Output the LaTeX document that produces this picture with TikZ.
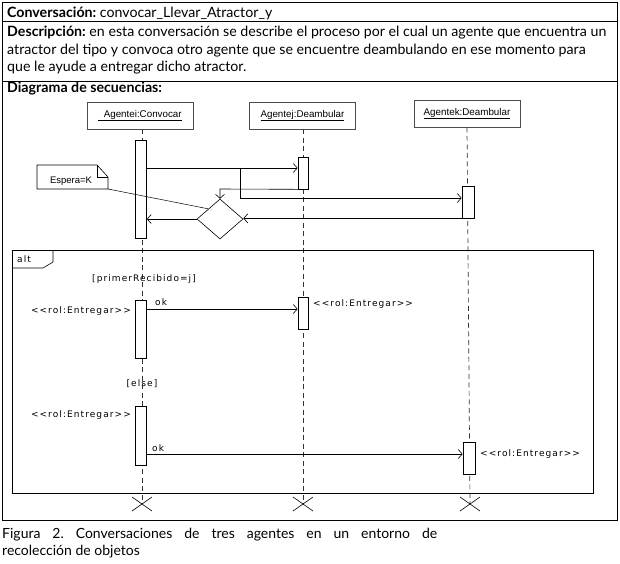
\documentclass[tikz,border=0pt]{standalone}
\usepackage{fontspec}
\setmainfont{Lato}
\newfontfamily\uml{Liberation Sans}
\newfontfamily\pix[LetterSpace=12]{DejaVu Sans}
\usetikzlibrary{arrows.meta,shapes.geometric,calc}
\frenchspacing
\begin{document}
\begin{tikzpicture}[x=1pt,y=-1pt,
  head/.style={draw=black!70,line width=0.8pt,minimum width=106pt,minimum height=27pt,inner sep=0pt,font=\uml\fontsize{9.8}{11}\selectfont},
  act/.style={draw,fill=white,line width=0.7pt,minimum width=11pt,inner sep=0pt},
  lifeline/.style={draw=black!80,line width=0.7pt,dash pattern=on 5pt off 3.5pt},
  msg/.style={draw,line width=0.6pt,-{Straight Barb[length=4pt,width=9pt]}},
  plain/.style={draw,line width=0.6pt},
  pixtxt/.style={inner sep=0pt,font=\pix\fontsize{9}{10}\selectfont},
  hdr/.style={inner sep=0pt,font=\fontsize{14.2}{17.3}\selectfont}]
\useasboundingbox (0,0) rectangle (620,563);
% table
\draw[line width=0.8pt] (2,2) rectangle (617,520);
\draw[line width=0.8pt] (2,21) -- (617,21);
\draw[line width=0.8pt] (2,81) -- (617,81);
\node[hdr,anchor=base west] (conv) at (7,17) {\textbf{Conversación:} convocar\_Llevar\_Atractor\_y};
\node[hdr,anchor=north west,align=left] (desc) at (7,26) {\textbf{Descripción:} en esta conversación se describe el proceso por el cual un agente que encuentra un\\atractor del tipo y convoca otro agente que se encuentre deambulando en ese momento para\\que le ayude a entregar dicho atractor.};
\node[hdr,anchor=base west] (diag) at (7,92) {\textbf{Diagrama de secuencias:}};
% heads
\node[head] (h1) at (140,115.5) {\underline{\ \ Agentei:Convocar}};
\node[head] (h2) at (302.5,115.5) {\underline{Agentej:Deambular}};
\node[head] (h3) at (467,113.5) {\underline{Agentek:Deambular}};
% end points
\coordinate (e1) at (142,504);
\coordinate (e2) at (303,504);
\coordinate (e3) at (470,504);
\draw[lifeline] (h1.south -| e1) -- (e1);
\draw[lifeline] (h2.south -| e2) -- (e2);
\draw[lifeline] (h3.south) -- (e3);
\foreach \e in {e1,e2,e3}{
  \draw[line width=0.6pt] ($(\e)+(-10,-7)$) -- ($(\e)+(10,7)$);
  \draw[line width=0.6pt] ($(\e)+(-10,7)$) -- ($(\e)+(10,-7)$);
}
% alt frame
\draw[line width=0.8pt] (12,250) rectangle (593,493);
\draw[line width=0.6pt] (12,268) -- (43,268) -- (53,262) -- (53,250);
\node[pixtxt,anchor=west] (alt) at (17,259) {alt};
% activations
\node[act,minimum height=98pt] (a1) at (141,189) {};
\node[act,minimum height=32pt,minimum width=10pt] (a2) at (303,173) {};
\node[act,minimum height=32pt,minimum width=12pt] (a3) at (468,202) {};
\node[act,minimum height=58pt] (a4) at (141,329) {};
\node[act,minimum height=32pt,minimum width=10pt] (a5) at (303,313) {};
\node[act,minimum height=59pt] (a6) at (141,435.5) {};
\node[act,minimum height=32pt,minimum width=12pt] (a7) at (469,458) {};
% diamond
\node[draw,diamond,line width=0.6pt,minimum width=46pt,minimum height=40pt,inner sep=0pt,aspect=1.15,fill=white] (d) at (220,219) {};
% note
\coordinate (nA) at (37,165);
\coordinate (nB) at (97,165);
\coordinate (nC) at (108,177);
\coordinate (nD) at (108,189);
\coordinate (nE) at (37,189);
\draw[line width=0.6pt] (nA) -- (nB) -- (nC) -- (nD) -- (nE) -- cycle;
\draw[line width=0.6pt] (nB) -- (97,177) -- (nC);
\node[inner sep=0pt,font=\uml\fontsize{9.5}{10}\selectfont] (note) at (71,181) {Espera=K};
\draw[line width=0.5pt] (nD) -- ($(d.west)!0.5!(d.north)$);
% messages top
\draw[msg] (a1.east |- 0,168) -- (a2.west |- 0,168);
\draw[msg] (a1.east |- 0,168) -- (240,168) -- (240,198) -- (a3.west |- 0,198);
\draw[msg] (a2.south east) -- (220,189) -- (d.north);
\draw[msg] (a3.south west) -- (d.east |- a3.south west);
\draw[msg] (d.west) -- (a1.east |- d.west);
% alt contents
\node[pixtxt] (g1) at (144,279) {[primerRecibido=j]};
\node[pixtxt] (g2) at (142,384) {[else]};
\draw[msg] (a4.east |- 0,309) -- (a5.west |- 0,309);
\node[pixtxt,anchor=south west] (ok1) at (155,306) {ok};
\draw[msg] (a6.east |- 0,454) -- (a7.west |- 0,454);
\node[pixtxt,anchor=south west] (ok2) at (152,452) {ok};
\node[pixtxt,anchor=east] (r1) at (131,311) {<<rol:Entregar>>};
\node[pixtxt,anchor=west] (r2) at (313,304) {<<rol:Entregar>>};
\node[pixtxt,anchor=east] (r3) at (131,415) {<<rol:Entregar>>};
\node[pixtxt,anchor=west] (r4) at (480,454) {<<rol:Entregar>>};
% caption
\node[anchor=north west,inner sep=0pt,text width=435pt,align=justify,font=\fontsize{14}{17}\selectfont] (cap) at (2,528) {Figura 2. Conversaciones de tres agentes en un entorno de\linebreak recolección de objetos};
\end{tikzpicture}
\end{document}
